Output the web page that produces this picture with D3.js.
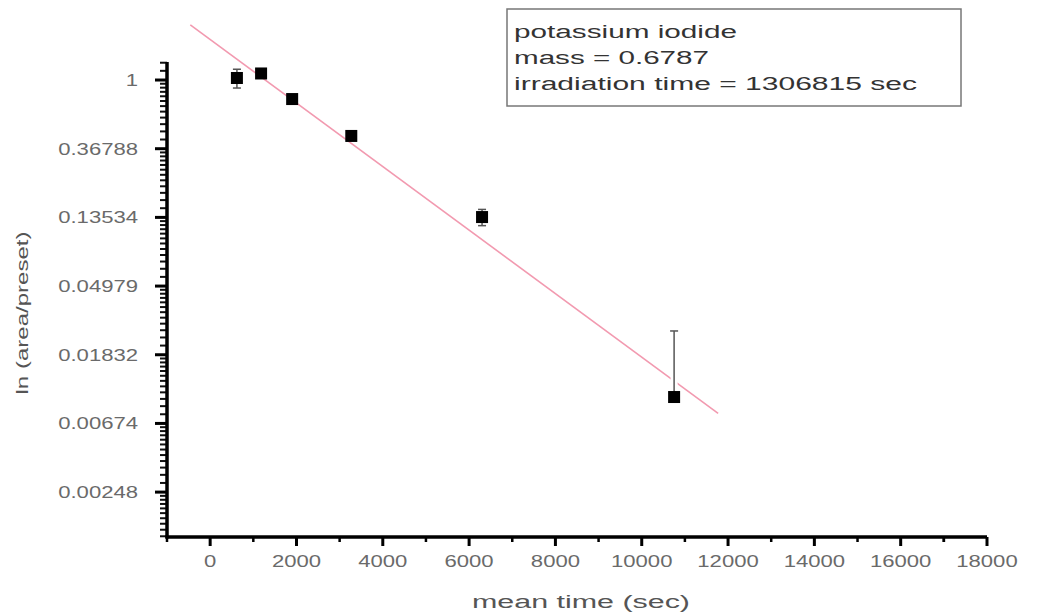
<!DOCTYPE html>
<html>
<head>
<meta charset="utf-8">
<script src="https://d3js.org/d3.v7.min.js"></script>
<style>
  body { margin: 0; background: #fff; }
  text { font-family: "Liberation Sans", Arial, sans-serif; }
</style>
</head>
<body>
<svg id="chart" width="1037" height="613"></svg>

<script>
// data
const meanTime = [620, 1180, 1900, 3270, 6300, 10750];
const ratio    = [1.03, 1.10, 0.758, 0.443, 0.136, 0.0099];
const ratioErr = [0.14, 0.07, 0.03, 0.02, 0.016, 0.016];

// fitted line end points
const fitTime  = [-460, 11770];
const fitRatio = [2.23, 0.0078];

const yTickValues = [1, 0.36788, 0.13534, 0.04979, 0.01832, 0.00674, 0.00248];
const yTickLabels = ["1", "0.36788", "0.13534", "0.04979", "0.01832", "0.00674", "0.00248"];
const xTickValues = [0, 2000, 4000, 6000, 8000, 10000, 12000, 14000, 16000, 18000];

const legendLines = ["potassium iodide", "mass = 0.6787", "irradiation time = 1306815 sec"];

const svg = d3.select("#chart");

const x = d3.scaleLinear().domain([-1000, 18000]).range([167, 987]);
const y = d3.scaleLog().base(Math.E).domain([0.00129, 1.3]).range([537, 62]);

// stretch text horizontally like the reference
function stretch(sel, f) {
    sel.each(function () {
        const w = this.getComputedTextLength();
        d3.select(this).attr("textLength", w * f).attr("lengthAdjust", "spacingAndGlyphs");
    });
}

// minor ticks on y: linear subdivisions between the e-powers
let yMinor = [];
for (let n = -7; n <= 0; n++) {
    const lo = Math.exp(n), hi = Math.exp(n + 1);
    for (let k = 1; k < 12; k++) {
        const v = lo + k * (hi - lo) / 12;
        if (v > y.domain()[0] && v < y.domain()[1]) yMinor.push(v);
    }
}
const xMinor = d3.range(-1000, 18000, 2000).concat([17000]).filter(v => v % 2000 !== 0);

// Y axis
const yAxis = svg.append("g").attr("transform", "translate(167,0)");
yAxis.selectAll("line.minor").data(yMinor).join("line")
    .attr("class", "minor")
    .attr("x1", -7).attr("x2", 0)
    .attr("y1", d => y(d)).attr("y2", d => y(d))
    .attr("stroke", "#111").attr("stroke-width", 2);
yAxis.selectAll("line.major").data(yTickValues).join("line")
    .attr("class", "major")
    .attr("x1", -12).attr("x2", 0)
    .attr("y1", d => y(d)).attr("y2", d => y(d))
    .attr("stroke", "#000").attr("stroke-width", 3);
yAxis.append("line")
    .attr("x1", 0).attr("x2", 0)
    .attr("y1", y.range()[1]).attr("y2", y.range()[0] + 1.5)
    .attr("stroke", "#000").attr("stroke-width", 3.5);
const yLab = yAxis.selectAll("text").data(yTickValues).join("text")
    .attr("x", -29).attr("y", d => y(d) + 6)
    .attr("text-anchor", "end")
    .attr("font-size", 16)
    .attr("fill", "#6a6a6a")
    .text((d, i) => yTickLabels[i]);
stretch(yLab, 1.38);

// X axis
const xAxis = svg.append("g").attr("transform", "translate(0,537)");
xAxis.selectAll("line.minor").data(xMinor).join("line")
    .attr("class", "minor")
    .attr("x1", d => x(d)).attr("x2", d => x(d))
    .attr("y1", 0).attr("y2", 5)
    .attr("stroke", "#000").attr("stroke-width", 2.5);
xAxis.selectAll("line.major").data(xTickValues).join("line")
    .attr("class", "major")
    .attr("x1", d => x(d)).attr("x2", d => x(d))
    .attr("y1", 0).attr("y2", 9)
    .attr("stroke", "#000").attr("stroke-width", 3);
xAxis.append("line")
    .attr("x1", x.range()[0] - 1.5).attr("x2", x.range()[1])
    .attr("y1", 0).attr("y2", 0)
    .attr("stroke", "#000").attr("stroke-width", 3.5);
const xLab = xAxis.selectAll("text").data(xTickValues).join("text")
    .attr("x", d => x(d)).attr("y", 30)
    .attr("text-anchor", "middle")
    .attr("font-size", 16)
    .attr("fill", "#6a6a6a")
    .text(d => d);
stretch(xLab, 1.38);

// axis titles
svg.append("text")
    .attr("x", 581).attr("y", 608)
    .attr("text-anchor", "middle")
    .attr("font-size", 18).attr("fill", "#555")
    .attr("textLength", 218).attr("lengthAdjust", "spacingAndGlyphs")
    .text("mean time (sec)");
svg.append("text")
    .attr("transform", "translate(28,313) rotate(-90)")
    .attr("text-anchor", "middle")
    .attr("font-size", 17).attr("fill", "#555")
    .attr("textLength", 163).attr("lengthAdjust", "spacingAndGlyphs")
    .text("ln (area/preset)");

// fit line
svg.append("line")
    .attr("x1", x(fitTime[0])).attr("y1", y(fitRatio[0]))
    .attr("x2", x(fitTime[1])).attr("y2", y(fitRatio[1]))
    .attr("stroke", "#f29ab0").attr("stroke-width", 1.6);

// error bars and points
const pts = meanTime.map((t, i) => ({ t: t, v: ratio[i], e: ratioErr[i] }));
const err = svg.append("g").selectAll("g").data(pts).join("g");
err.each(function (d) {
    const g = d3.select(this);
    const top = y(d.v + d.e);
    const bot = d.v - d.e > 0 ? y(d.v - d.e) : y(d.v);
    const cx = x(d.t);
    g.append("line").attr("x1", cx).attr("x2", cx).attr("y1", top).attr("y2", bot)
        .attr("stroke", "#fff").attr("stroke-width", 7);
    g.append("line").attr("x1", cx).attr("x2", cx).attr("y1", top).attr("y2", bot)
        .attr("stroke", "#555").attr("stroke-width", 1.5);
    g.append("line").attr("x1", cx - 4).attr("x2", cx + 4).attr("y1", top).attr("y2", top)
        .attr("stroke", "#555").attr("stroke-width", 1.5);
    if (d.v - d.e > 0) {
        g.append("line").attr("x1", cx - 4).attr("x2", cx + 4).attr("y1", bot).attr("y2", bot)
            .attr("stroke", "#555").attr("stroke-width", 1.5);
    }
});
svg.append("g").selectAll("rect").data(pts).join("rect")
    .attr("x", d => x(d.t) - 6).attr("y", d => y(d.v) - 6)
    .attr("width", 12).attr("height", 12)
    .attr("fill", "#000");

// legend box
const leg = svg.append("g");
leg.append("rect")
    .attr("x", 507).attr("y", 9).attr("width", 454).attr("height", 97)
    .attr("fill", "#fff").attr("stroke", "#777").attr("stroke-width", 1.5);
const legWidths = [223, 195, 403];
leg.selectAll("text").data(legendLines).join("text")
    .attr("x", 514).attr("y", (d, i) => 38 + i * 26)
    .attr("font-size", 18).attr("fill", "#333")
    .attr("textLength", (d, i) => legWidths[i]).attr("lengthAdjust", "spacingAndGlyphs")
    .text(d => d);
</script>
</body>
</html>
